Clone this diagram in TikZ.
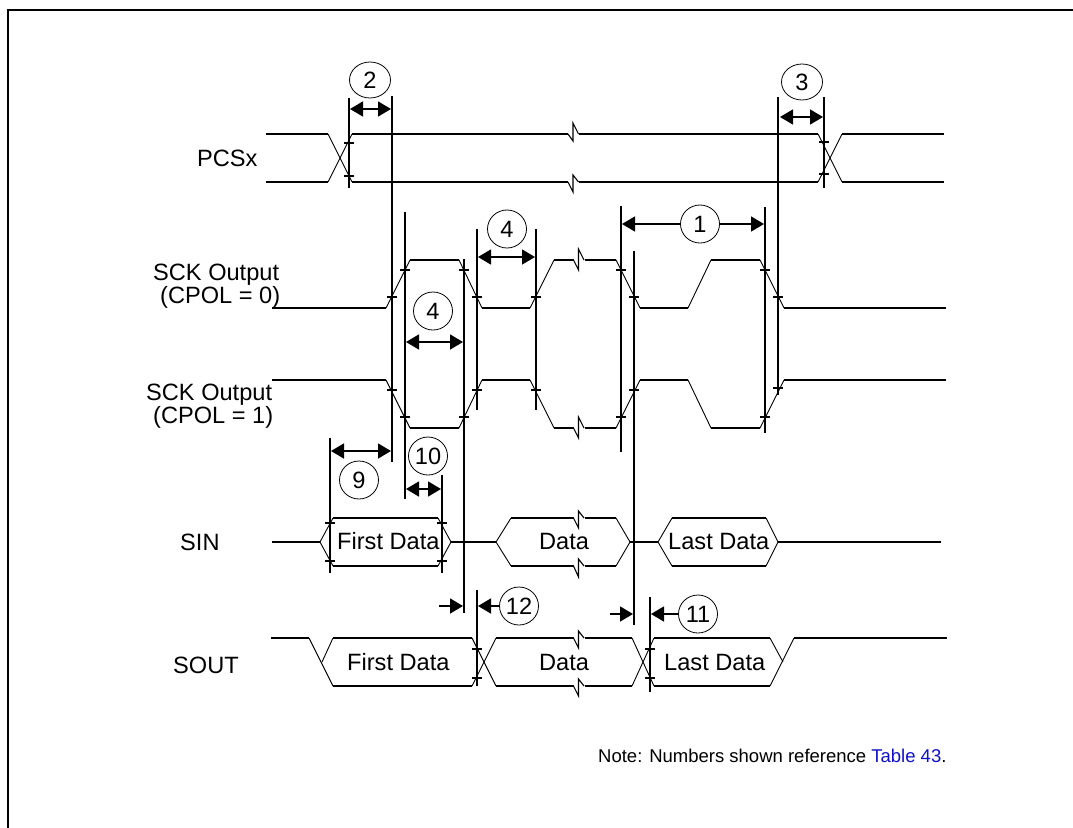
\documentclass[tikz,border=0pt]{standalone}
\usepackage{fontspec}
\setmainfont{Liberation Sans}
\usetikzlibrary{arrows.meta,shapes.geometric}
\definecolor{linkblue}{RGB}{16,16,200}
\newcommand{\zz}[4]{\draw[zig] (#1,#2) -- ++(5,#3) -- ++(0,-#3-#4) -- (#1+10.5,#2);}
\tikzset{
  x=1pt,y=-1pt,
  frameline/.style={line width=2pt,line cap=rect},
  wave/.style={line width=1.6pt},
  trans/.style={line width=0.9pt},
  zig/.style={line width=1.1pt},
  vline/.style={line width=1.6pt},
  tickline/.style={line width=1.3pt},
  dimboth/.style={line width=1.5pt,{Triangle[length=13pt,width=15pt]}-{Triangle[length=13pt,width=15pt]}},
  dimend/.style={line width=1.5pt,-{Triangle[length=13pt,width=15pt]}},
  numcirc/.style={draw,line width=0.8pt,ellipse,inner sep=0pt,minimum width=39pt,minimum height=38pt,font=\fontsize{23.6}{24}\selectfont,fill=white},
  lab/.style={anchor=base west,inner sep=0pt,font=\fontsize{23.6}{24}\selectfont},
  notetext/.style={anchor=base west,inner sep=0pt,font=\fontsize{18.5}{20}\selectfont},
}
\begin{document}
\begin{tikzpicture}
\useasboundingbox (0,0) rectangle (1073,827);
% frame
\draw[frameline] (8,827) -- (8,10) -- (1073,10);

% horizontals
\foreach \a/\b/\y in {
 266/328/134, 266/328/182, 352/568/134, 352/568/182, 579/818/134, 579/818/182, 842/944/134, 842/944/182,
 386/272/308, 410/459/260, 482/530/308, 554/574/260, 584.5/616/260, 640/688/308, 711/760/260, 784/946/308,
 272/386/380, 410/459/428, 482/530/380, 554/574/428, 584.5/616/428, 640/688/380, 711/760/428, 784/946/380,
 272/320/542, 333/438/518, 333/438/566, 451/496/542, 511/574/518, 511/574/566, 584.5/616/518, 584.5/616/566,
 630/658/542, 672/766/518, 672/766/566, 778/941/542,
 271/309/638, 333/472/638, 333/472/686, 496/574/638, 496/574/686, 584.5/632/638, 584.5/632/686, 654/770/638, 654/770/686, 794/947/638
}{\draw[wave] (\a,\y) -- (\b,\y);}

% transitions
\foreach \xa/\ya/\xb/\yb in {
 328/134/352/182, 328/182/352/134, 818/134/842/182, 818/182/842/134,
 386/308/410/260, 459/260/482/308, 530/308/554/260, 616/260/640/308, 688/308/711/260, 760/260/784/308,
 386/380/410/428, 459/428/482/380, 530/380/554/428, 616/428/640/380, 688/380/711/428, 760/428/784/380,
 320/542/333/518, 320/542/333/566, 438/518/451/542, 438/566/451/542,
 496/542/511/518, 496/542/511/566, 616/518/630/542, 616/566/630/542,
 658/542/672/518, 658/542/672/566, 766/518/778/542, 766/566/778/542,
 309/638/333/686, 322/662/333/638, 472/638/496/686, 472/686/496/638,
 632/638/654/686, 632/686/654/638, 770/638/783/662, 770/686/794/638
}{\draw[trans] (\xa,\ya) -- (\xb,\yb);}

% breaks
\zz{568}{134}{7}{11}
\zz{568}{182}{10}{7}
\zz{573.5}{260}{10}{11}
\zz{573.5}{428}{10}{11}
\zz{573.5}{518}{10}{7}
\zz{573.5}{566}{11}{7}
\zz{573.5}{638}{10}{7}
\zz{573.5}{686}{10}{7}

% verticals
\foreach \x/\ya/\yb in {
 349/98/188, 392/96/462, 824/97/188, 778/97/395,
 405/212/499, 464/259/613, 477/229/410, 536/229/410,
 621/206/452, 634/251/625, 765/207/433,
 330/438/573, 442/475/573, 477/590/686, 650/597/692
}{\draw[vline] (\x,\ya) -- (\x,\yb);}

% ticks
\foreach \x/\y in {
 349/143, 349/176, 824/142, 824/174,
 392/297, 405/270, 464/270, 477/297, 536/297, 621/270, 634/297, 765/270, 778/297,
 392/390, 405/417, 464/417, 477/390, 536/390, 621/417, 634/390, 765/417, 778/388,
 330/523, 330/561, 442/523, 442/561,
 477/649, 477/678, 650/649, 650/678
}{\draw[tickline] (\x-5,\y) -- (\x+5,\y);}

% number circles
\node[numcirc,minimum width=41pt,minimum height=36pt] (n2) at (370,80) {2};
\node[numcirc,minimum width=41pt,minimum height=36pt] (n3) at (802,82) {3};
\node[numcirc] (n1) at (700,224) {1};
\node[numcirc] (n4a) at (507,229) {4};
\node[numcirc] (n4b) at (433,311) {4};
\node[numcirc] (n9) at (359,480) {9};
\node[numcirc] (n10) at (428,456) {10};
\node[numcirc] (n12) at (519,606) {12};
\node[numcirc] (n11) at (698,614) {11};

% dimension ends
\coordinate (d2a) at (350,109); \coordinate (d2b) at (391,109);
\coordinate (d3a) at (780,117); \coordinate (d3b) at (823,117);
\coordinate (d1a) at (622,224); \coordinate (d1b) at (764,224);
\coordinate (d4aa) at (478,257); \coordinate (d4ab) at (535,257);
\coordinate (d4ba) at (406,342); \coordinate (d4bb) at (463,342);
\coordinate (d9a) at (331,451); \coordinate (d9b) at (391,451);
\coordinate (d10a) at (406,489); \coordinate (d10b) at (441,489);
\coordinate (d12a) at (439,606); \coordinate (d12b) at (463,606); \coordinate (d12c) at (478,606);
\coordinate (d11a) at (610,614); \coordinate (d11b) at (633,614); \coordinate (d11c) at (651,614);

\draw[dimboth] (d2a) -- (d2b);
\draw[dimboth] (d3a) -- (d3b);
\draw[dimend] (n1) -- (d1a);
\draw[dimend] (n1) -- (d1b);
\draw[dimboth] (d4aa) -- (d4ab);
\draw[dimboth] (d4ba) -- (d4bb);
\draw[dimboth] (d9a) -- (d9b);
\draw[dimboth] (d10a) -- (d10b);
\draw[dimend] (d12a) -- (d12b);
\draw[dimend] (n12) -- (d12c);
\draw[dimend] (d11a) -- (d11b);
\draw[dimend] (n11) -- (d11c);

% labels
\node[lab] (pcs) at (197,166) {PCSx};
\node[lab] (sck0a) at (153,280) {SCK Output};
\node[lab] (sck0b) at (160,303) {(CPOL = 0)};
\node[lab] (sck1a) at (146,400) {SCK Output};
\node[lab] (sck1b) at (153,423) {(CPOL = 1)};
\node[lab] (sin) at (180,550) {SIN};
\node[lab] (sout) at (173,673) {SOUT};
\node[lab] (sd1) at (337,549) {First Data};
\node[lab] (sd2) at (539,549) {Data};
\node[lab] (sd3) at (668,549) {Last Data};
\node[lab] (od1) at (347,670) {First Data};
\node[lab] (od2) at (539,670) {Data};
\node[lab] (od3) at (664,670) {Last Data};
\node[notetext] (note) at (598,762) {Note: Numbers shown reference \textcolor{linkblue}{Table 43}.};
\end{tikzpicture}
\end{document}
